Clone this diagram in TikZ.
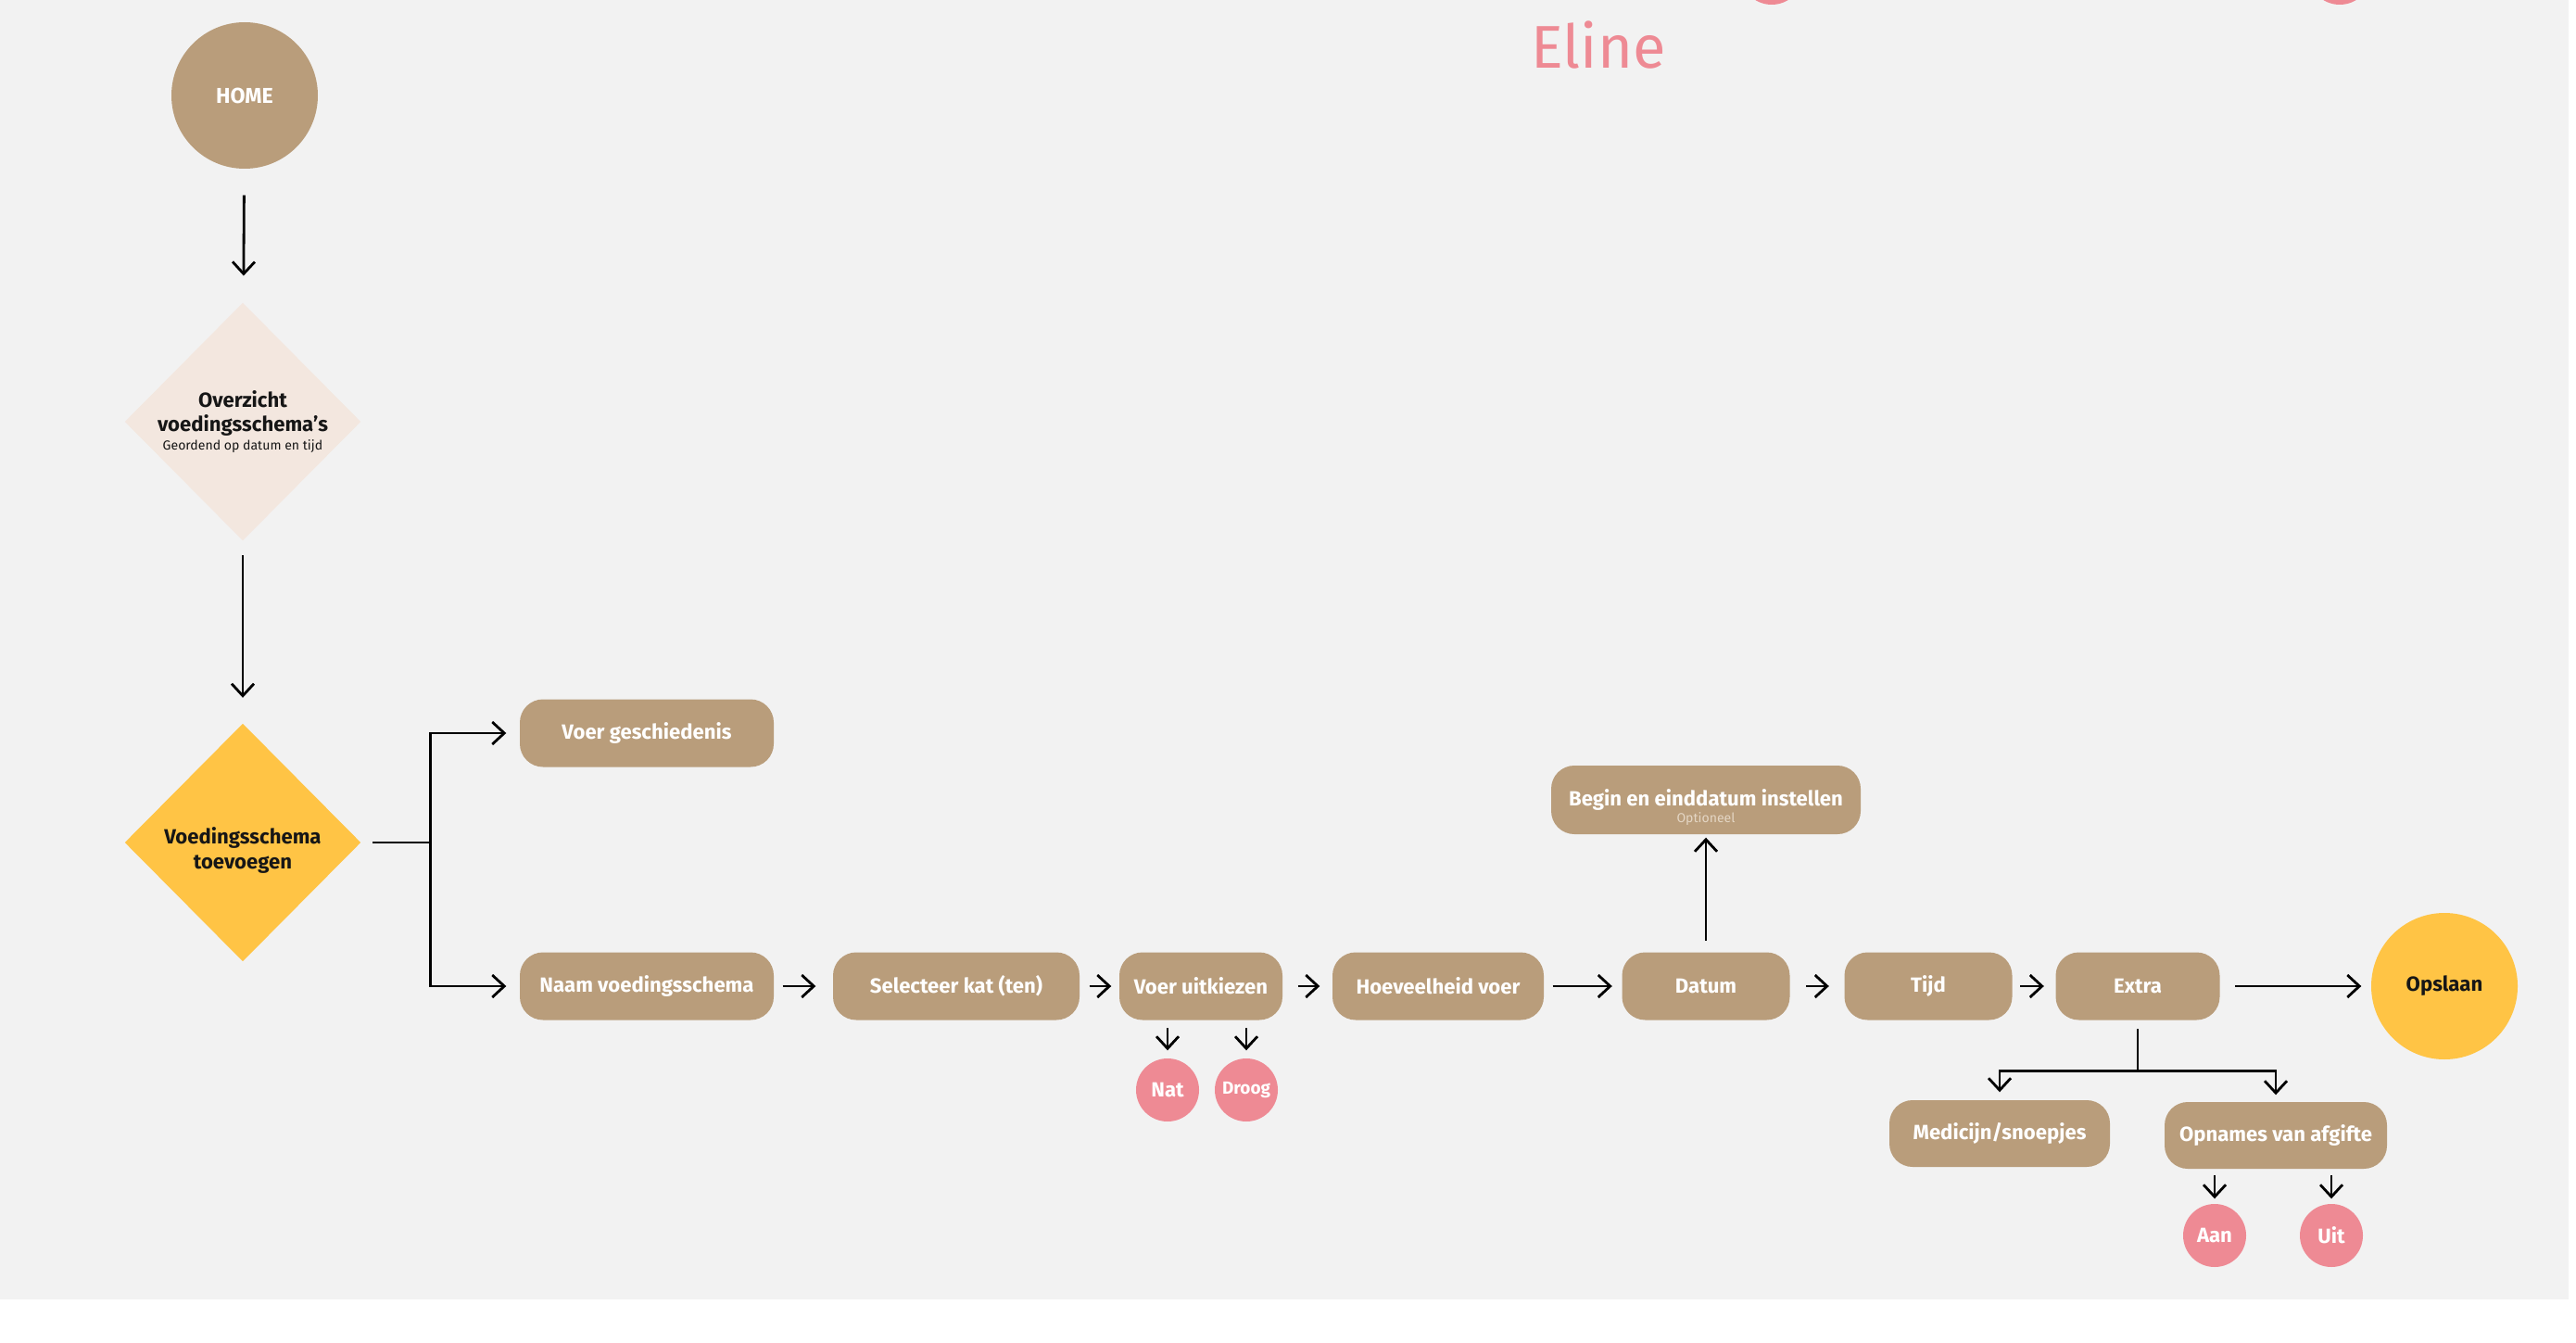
\documentclass[tikz,border=0pt]{standalone}
\usepackage{fontspec}
\setmainfont{Fira Sans}
\usepackage{tikz}
\usetikzlibrary{arrows.meta, shapes.geometric, calc}
\usepackage{xcolor}
\definecolor{boxtan}{RGB}{185,157,123}
\definecolor{mustard}{RGB}{255,196,69}
\definecolor{palebeige}{RGB}{243,231,223}
\definecolor{rosepink}{RGB}{238,138,148}
\definecolor{bggrey}{RGB}{242,242,242}
\definecolor{inkdark}{RGB}{22,22,22}
\definecolor{optbeige}{RGB}{228,214,196}
\newcommand{\boxfont}{\bfseries\fontsize{6.3}{7.6}\selectfont}
\newcommand{\subfont}{\mdseries\fontsize{4}{4.6}\selectfont}

\begin{document}
\begin{tikzpicture}[
    arr/.style={-{Straight Barb[length=1.3mm,width=2.4mm]}, line width=0.8pt},
    tanbox/.style={rectangle, rounded corners=0.25cm, fill=boxtan, text=white,
      minimum height=0.73cm, inner sep=0pt, font=\boxfont},
    roundel/.style={circle, inner sep=0pt, font=\boxfont},
    decision/.style={diamond, shape aspect=1, inner sep=0pt, minimum width=2.55cm,
      minimum height=2.57cm, align=center, text=inkdark, font=\boxfont}
  ]
    \useasboundingbox (0,0) rectangle (27.8,14.48);
    \fill[white] (0,0) rectangle (27.8,14.48);
    \fill[bggrey] (0,0.46) rectangle (27.72,14.48);
    \begin{scope}
      \clip (0,0) rectangle (27.8,14.48);
      \fill[rosepink] (19.12,14.77) circle (0.34);
      \fill[rosepink] (25.25,14.77) circle (0.34);
    \end{scope}
    \node[anchor=base west, text=rosepink, font=\fontsize{18.5}{22}\selectfont]
      (eline) at (16.40,13.74) {Eline};

    \node[roundel, fill=boxtan, text=white, minimum size=1.58cm,
      font=\bfseries\fontsize{6.6}{8}\selectfont] (home) at (2.64,13.45) {HOME};
    \node[decision, fill=palebeige] (overzicht) at (2.62,9.93)
      {Overzicht\\voedingsschema’s\\[-2pt]{\subfont Geordend op datum en tijd}};
    \node[decision, fill=mustard] (toevoegen) at (2.62,5.39)
      {\rule{0pt}{9.8pt}Voedingsschema\\toevoegen};

    \node[tanbox, minimum width=2.74cm] (voergesch) at (6.98,6.57) {Voer geschiedenis};
    \node[tanbox, minimum width=2.74cm] (naam) at (6.98,3.84) {Naam voedingsschema};
    \node[tanbox, minimum width=2.66cm] (selecteer) at (10.32,3.84) {Selecteer kat (ten)};
    \node[tanbox, minimum width=1.76cm] (uitkiezen) at (12.96,3.84) {Voer uitkiezen};
    \node[tanbox, minimum width=2.28cm] (hoeveel) at (15.52,3.84) {Hoeveelheid voer};
    \node[tanbox, minimum width=1.81cm] (datum) at (18.41,3.84) {Datum};
    \node[tanbox, minimum width=1.81cm] (tijd) at (20.81,3.84) {Tijd};
    \node[tanbox, minimum width=1.77cm] (extra) at (23.07,3.84) {Extra};
    \node[roundel, fill=mustard, text=inkdark, minimum size=1.58cm] (opslaan)
      at (26.38,3.84) {Opslaan};
    \node[tanbox, minimum width=3.34cm, minimum height=0.74cm, align=center] (begin)
      at (18.41,5.85) {\rule{0pt}{9.5pt}Begin en einddatum instellen\\[-2.5pt]{\subfont\color{optbeige}Optioneel}};
    \node[tanbox, minimum width=2.38cm, minimum height=0.72cm] (medicijn)
      at (21.58,2.25) {Medicijn/snoepjes};
    \node[tanbox, minimum width=2.40cm, minimum height=0.72cm] (opnames)
      at (24.56,2.23) {Opnames van afgifte};

    \node[roundel, fill=rosepink, text=white, minimum size=0.68cm] (nat) at (12.60,2.72) {Nat};
    \node[roundel, fill=rosepink, text=white, minimum size=0.68cm,
      font=\bfseries\fontsize{5.4}{6}\selectfont] (droog) at (13.45,2.72) {Droog};
    \node[roundel, fill=rosepink, text=white, minimum size=0.68cm] (aan) at (23.90,1.15) {Aan};
    \node[roundel, fill=rosepink, text=white, minimum size=0.68cm] (uit) at (25.16,1.15) {Uit};

    \draw[arr, shorten <=0.28cm, shorten >=0.29cm] (home) -- (overzicht);
    \draw[arr, shorten <=0.15cm, shorten >=0.27cm] (overzicht) -- (toevoegen);
    \draw[arr, shorten >=0.14cm] ([xshift=0.12cm]toevoegen.east) -- ++(0.62,0)
      |- (voergesch.west);
    \draw[arr, shorten >=0.14cm] ([xshift=0.12cm]toevoegen.east) -- ++(0.62,0)
      |- (naam.west);

    \draw[arr, shorten <=0.09cm, shorten >=0.18cm] (naam) -- (selecteer);
    \draw[arr, shorten <=0.10cm, shorten >=0.08cm] (selecteer) -- (uitkiezen);
    \draw[arr, shorten <=0.16cm, shorten >=0.13cm] (uitkiezen) -- (hoeveel);
    \draw[arr, shorten <=0.09cm, shorten >=0.10cm] (hoeveel) -- (datum);
    \draw[arr, shorten <=0.17cm, shorten >=0.16cm] (datum) -- (tijd);
    \draw[arr, shorten <=0.08cm, shorten >=0.12cm] (tijd) -- (extra);
    \draw[arr, shorten <=0.16cm, shorten >=0.10cm] (extra) -- (opslaan);
    \draw[arr, shorten <=0.12cm, shorten >=0.03cm] (datum) -- (begin);

    \draw[arr, shorten <=0.08cm, shorten >=0.08cm] (uitkiezen.south -| nat.north) -- (nat.north);
    \draw[arr, shorten <=0.08cm, shorten >=0.08cm] (uitkiezen.south -| droog.north) -- (droog.north);

    \draw[arr, shorten >=0.08cm] ([yshift=-0.09cm]extra.south) -- ++(0,-0.45)
      -| (medicijn.north);
    \draw[arr, shorten >=0.07cm] ([yshift=-0.09cm]extra.south) -- ++(0,-0.45)
      -| (opnames.north);
    \draw[arr, shorten <=0.06cm, shorten >=0.05cm] (opnames.south -| aan.north) -- (aan.north);
    \draw[arr, shorten <=0.06cm, shorten >=0.05cm] (opnames.south -| uit.north) -- (uit.north);
  \end{tikzpicture}
\end{document}
